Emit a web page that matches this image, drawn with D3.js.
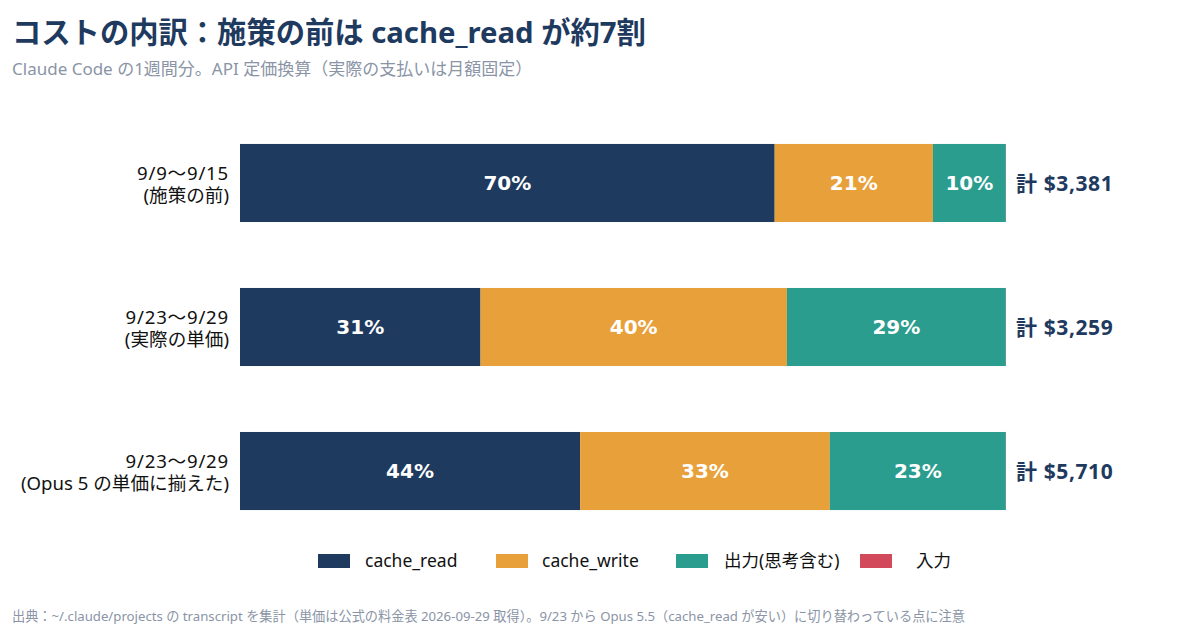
<!DOCTYPE html>
<html>
<head>
<meta charset="utf-8">
<script src="https://cdn.jsdelivr.net/npm/d3@7"></script>
<style>
  body { margin: 0; background: #fff; }
  svg { font-family: "Noto Sans", "Noto Sans CJK JP", sans-serif; }
</style>
</head>
<body>
<svg id="drawing_region"></svg>
<script>
// periods (two-line labels)
const periods = ["9/9〜9/15", "9/23〜9/29 実際", "9/23〜9/29 Opus5"];
const periodLine1 = ["9/9〜9/15", "9/23〜9/29", "9/23〜9/29"];
const periodLine2 = ["(施策の前)", "(実際の単価)", "(Opus 5 の単価に揃えた)"];

// series names and shares (% of total cost)
const seriesKeys = ["cache_read", "cache_write", "output", "input"];
const seriesNames = ["cache_read", "cache_write", "出力(思考含む)", "入力"];
const cacheRead = [69.8, 31.4, 44.4];
const cacheWrite = [20.66, 40.0, 32.6];
const output = [9.52, 28.58, 22.98];
const input = [0.02, 0.02, 0.02];
const totals = [3381, 3259, 5710];

const colors = ["#1f3a5f", "#e8a13a", "#2a9d8f", "#d1495b"];

const width = 1200, height = 630;

const data = periods.map((p, i) => ({
  period: p,
  cache_read: cacheRead[i],
  cache_write: cacheWrite[i],
  output: output[i],
  input: input[i],
  total: totals[i]
}));

const svg = d3.select('#drawing_region')
  .attr('width', width)
  .attr('height', height);

// title
svg.append('text')
  .attr('x', 12).attr('y', 43)
  .attr('fill', '#1f3a5f')
  .attr('font-size', 29.3)
  .attr('font-weight', 700)
  .text('コストの内訳：施策の前は cache_read が約7割');

svg.append('text')
  .attr('x', 12).attr('y', 75)
  .attr('fill', '#8a94a6')
  .attr('font-size', 17)
  .text('Claude Code の1週間分。API 定価換算（実際の支払いは月額固定）');

const x = d3.scaleLinear().domain([0, 100]).range([240, 1006]);
const y = d3.scaleBand().domain(periods).range([78, 576]).padding(0.458);

const stack = d3.stack().keys(seriesKeys);
const layers = stack(data);
const color = d3.scaleOrdinal().domain(seriesKeys).range(colors);

const layer = svg.append('g').selectAll('g')
  .data(layers)
  .join('g')
  .attr('fill', d => color(d.key));

layer.selectAll('rect')
  .data(d => d)
  .join('rect')
  .attr('x', d => x(d[0]))
  .attr('y', d => y(d.data.period))
  .attr('width', d => x(d[1]) - x(d[0]))
  .attr('height', y.bandwidth());

// percent labels inside segments
layer.selectAll('text')
  .data(d => d.filter(s => s[1] - s[0] >= 5))
  .join('text')
  .attr('x', d => (x(d[0]) + x(d[1])) / 2)
  .attr('y', d => y(d.data.period) + y.bandwidth() / 2)
  .attr('dy', '0.36em')
  .attr('text-anchor', 'middle')
  .attr('fill', '#fff')
  .attr('font-size', 20)
  .attr('font-weight', 700)
  .attr('font-family', '"DejaVu Sans", sans-serif')
  .text(d => Math.round(d[1] - d[0]) + '%');

// totals
svg.append('g').selectAll('text')
  .data(data)
  .join('text')
  .attr('x', 1016)
  .attr('y', d => y(d.period) + y.bandwidth() / 2)
  .attr('dy', '0.36em')
  .attr('fill', '#1f3a5f')
  .attr('font-size', 21)
  .attr('font-weight', 700)
  .attr('letter-spacing', 0.6)
  .text(d => '計 $' + d3.format(',')(d.total));

// category labels (two lines)
const catG = svg.append('g').selectAll('g')
  .data(periods)
  .join('g');
catG.append('text')
  .attr('x', 229)
  .attr('y', d => y(d) + y.bandwidth() / 2 - 3)
  .attr('text-anchor', 'end')
  .attr('fill', '#111')
  .attr('font-size', 18.6)
  .attr('letter-spacing', 0.8)
  .text((d, i) => periodLine1[i]);
catG.append('text')
  .attr('x', 229)
  .attr('y', d => y(d) + y.bandwidth() / 2 + 19)
  .attr('text-anchor', 'end')
  .attr('fill', '#111')
  .attr('font-size', 18.6)
  .text((d, i) => periodLine2[i]);

// legend
const legendX = [318, 496, 676, 860];
const legendTextX = [365, 542, 724, 916];
const legend = svg.append('g').selectAll('g')
  .data(seriesKeys)
  .join('g');
legend.append('rect')
  .attr('x', (d, i) => legendX[i]).attr('y', 554)
  .attr('width', 32).attr('height', 14)
  .attr('fill', d => color(d));
legend.append('text')
  .attr('x', (d, i) => legendTextX[i]).attr('y', 561)
  .attr('dy', '0.36em')
  .attr('font-size', 17.5)
  .attr('fill', '#111')
  .text((d, i) => seriesNames[i]);

// footer
svg.append('text')
  .attr('x', 12).attr('y', 621)
  .attr('fill', '#8a94a6')
  .attr('font-size', 13.2)
  .text('出典：~/.claude/projects の transcript を集計（単価は公式の料金表 2026-09-29 取得）。9/23 から Opus 5.5（cache_read が安い）に切り替わっている点に注意');
</script>
</body>
</html>
